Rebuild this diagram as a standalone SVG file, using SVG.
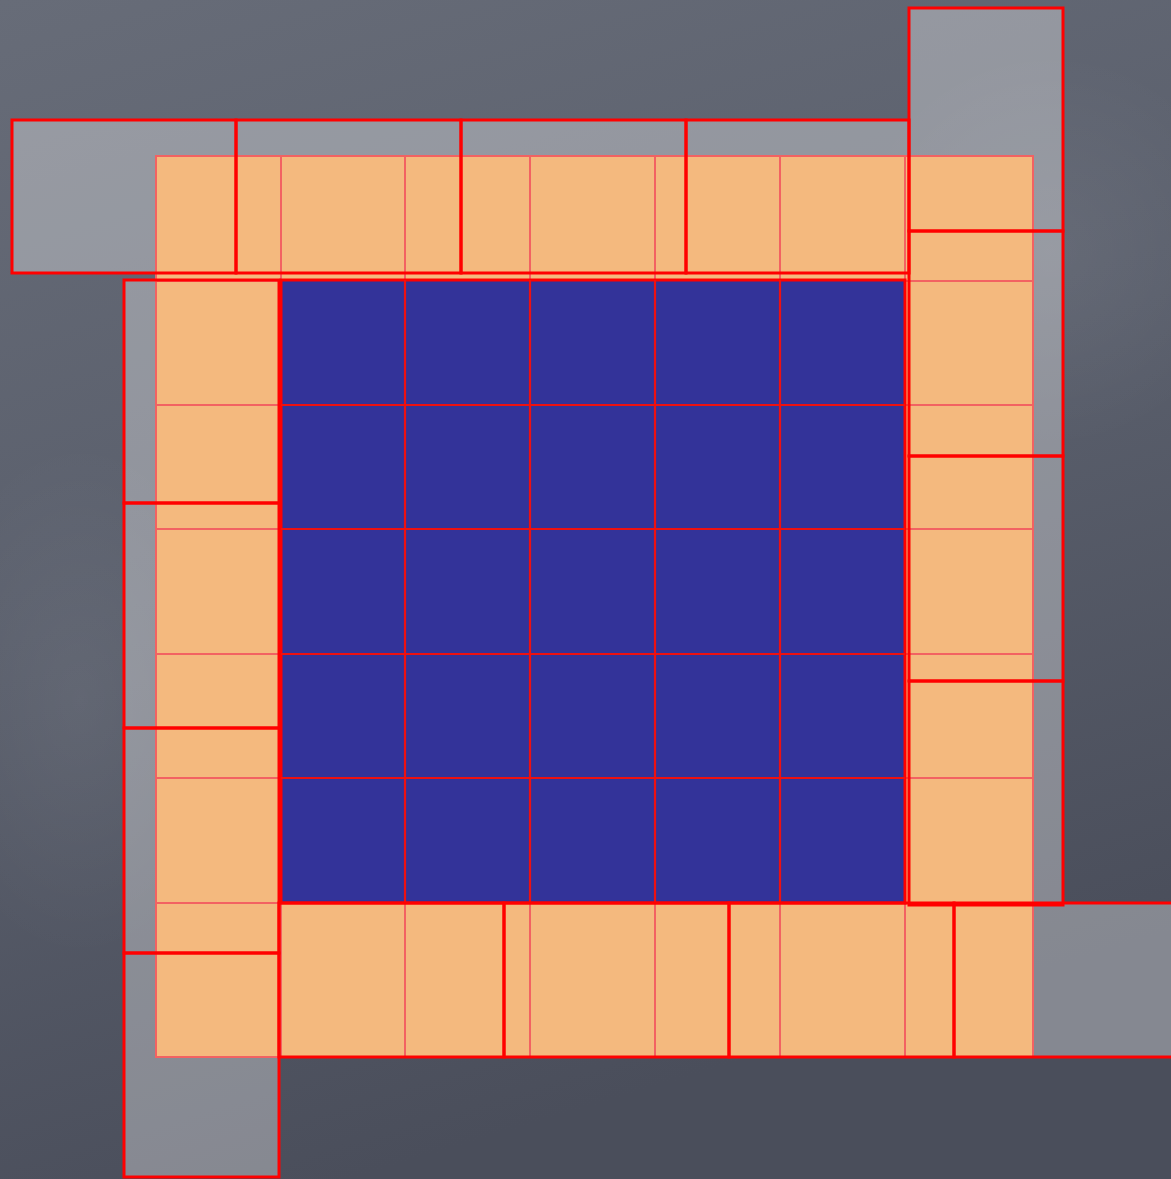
<svg xmlns="http://www.w3.org/2000/svg" width="1171" height="1179" viewBox="0 0 1171 1179">
<defs>
<linearGradient id="bg" x1="0" y1="0" x2="0.3" y2="1">
<stop offset="0" stop-color="#676c78"/>
<stop offset="0.5" stop-color="#5a5f6c"/>
<stop offset="1" stop-color="#4a4e5b"/>
</linearGradient>
<radialGradient id="blot" cx="0.5" cy="0.5" r="0.5">
<stop offset="0" stop-color="#ffffff" stop-opacity="0.06"/>
<stop offset="1" stop-color="#ffffff" stop-opacity="0"/>
</radialGradient>
<style>
.halo{fill:#ffffff;fill-opacity:0.33;stroke:none}
.hl{fill:none;stroke:#ff0000;stroke-width:3}
.or{fill:#f4b97e;stroke:#f26262;stroke-width:2}
.ol{stroke:#f26262;stroke-width:2}
.bl{fill:#333399;stroke:#ff0000;stroke-width:3}
.bgl{stroke:#ee1111;stroke-width:2.2}
</style>
</defs>
<rect x="0" y="0" width="1171" height="1179" fill="url(#bg)"/>
<ellipse cx="1050" cy="250" rx="200" ry="200" fill="url(#blot)"/>
<ellipse cx="80" cy="700" rx="160" ry="260" fill="url(#blot)"/>

<g id="halo-fills">
<rect class="halo" x="12" y="120" width="897" height="153"/>
<rect class="halo" x="909" y="8" width="154" height="897"/>
<rect class="halo" x="279" y="903" width="900" height="154"/>
<rect class="halo" x="124" y="280" width="155" height="897"/>
</g>

<g id="orange-border">
<rect class="or" x="156" y="156" width="877" height="901"/>
<line class="ol" x1="281" y1="156" x2="281" y2="1057"/>
<line class="ol" x1="405" y1="156" x2="405" y2="1057"/>
<line class="ol" x1="530" y1="156" x2="530" y2="1057"/>
<line class="ol" x1="655" y1="156" x2="655" y2="1057"/>
<line class="ol" x1="780" y1="156" x2="780" y2="1057"/>
<line class="ol" x1="905" y1="156" x2="905" y2="1057"/>
<line class="ol" x1="156" y1="281" x2="1033" y2="281"/>
<line class="ol" x1="156" y1="405" x2="1033" y2="405"/>
<line class="ol" x1="156" y1="529" x2="1033" y2="529"/>
<line class="ol" x1="156" y1="654" x2="1033" y2="654"/>
<line class="ol" x1="156" y1="778" x2="1033" y2="778"/>
<line class="ol" x1="156" y1="903" x2="1033" y2="903"/>
</g>

<g id="blue-interior">
<rect class="bl" x="281" y="280" width="624" height="623"/>
<line class="bgl" x1="405" y1="280" x2="405" y2="903"/>
<line class="bgl" x1="530" y1="280" x2="530" y2="903"/>
<line class="bgl" x1="655" y1="280" x2="655" y2="903"/>
<line class="bgl" x1="780" y1="280" x2="780" y2="903"/>
<line class="bgl" x1="281" y1="405" x2="905" y2="405"/>
<line class="bgl" x1="281" y1="529" x2="905" y2="529"/>
<line class="bgl" x1="281" y1="654" x2="905" y2="654"/>
<line class="bgl" x1="281" y1="778" x2="905" y2="778"/>
</g>

<g id="halo-top">
<rect class="hl" x="12" y="120" width="224" height="153"/>
<rect class="hl" x="236" y="120" width="225" height="153"/>
<rect class="hl" x="461" y="120" width="225" height="153"/>
<rect class="hl" x="686" y="120" width="223" height="153"/>
</g>
<g id="halo-right">
<rect class="hl" x="909" y="8" width="154" height="223"/>
<rect class="hl" x="909" y="231" width="154" height="225"/>
<rect class="hl" x="909" y="456" width="154" height="225"/>
<rect class="hl" x="909" y="681" width="154" height="224"/>
</g>
<g id="halo-bottom">
<rect class="hl" x="279" y="903" width="225" height="154"/>
<rect class="hl" x="504" y="903" width="225" height="154"/>
<rect class="hl" x="729" y="903" width="225" height="154"/>
<rect class="hl" x="954" y="903" width="225" height="154"/>
</g>
<g id="halo-left">
<rect class="hl" x="124" y="280" width="155" height="223"/>
<rect class="hl" x="124" y="503" width="155" height="225"/>
<rect class="hl" x="124" y="728" width="155" height="225"/>
<rect class="hl" x="124" y="953" width="155" height="224"/>
</g>
</svg>
